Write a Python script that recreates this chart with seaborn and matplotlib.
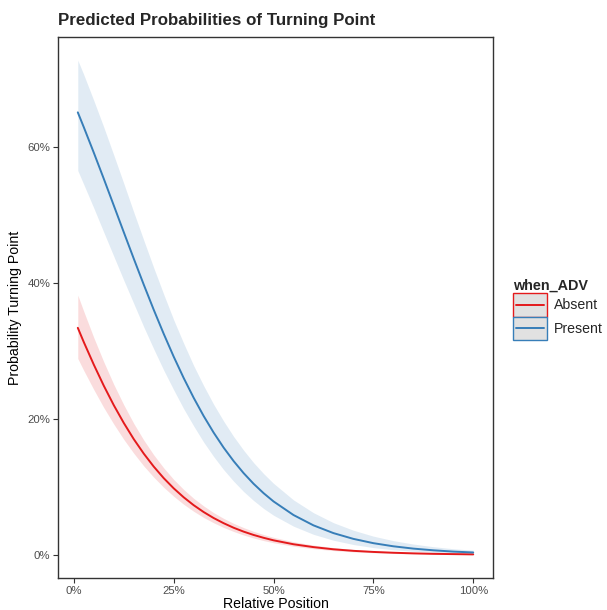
import matplotlib
matplotlib.use("Agg")
import matplotlib.pyplot as plt
from matplotlib.patches import Rectangle
from matplotlib.lines import Line2D
from matplotlib.ticker import PercentFormatter
import seaborn as sns
import pandas as pd

# values
position = [0.01, 0.025, 0.05, 0.075, 0.10, 0.125, 0.15, 0.175, 0.20, 0.225,
            0.25, 0.275, 0.30, 0.325, 0.35, 0.375, 0.40, 0.425, 0.45, 0.475,
            0.50, 0.55, 0.60, 0.65, 0.70, 0.75, 0.80, 0.85, 0.90, 0.95, 1.00]

absent_prob = [0.3341, 0.3131, 0.2800, 0.2490, 0.2204, 0.1943, 0.1705, 0.1492,
               0.1301, 0.1131, 0.0981, 0.0849, 0.0733, 0.0632, 0.0544, 0.0468,
               0.0401, 0.0344, 0.0295, 0.0253, 0.0216, 0.0158, 0.0116, 0.0084,
               0.0061, 0.0045, 0.0033, 0.0024, 0.0017, 0.0013, 0.0009]
absent_low = [0.2890, 0.2713, 0.2433, 0.2168, 0.1926, 0.1701, 0.1497, 0.1311,
              0.1145, 0.0996, 0.0864, 0.0746, 0.0643, 0.0552, 0.0474, 0.0405,
              0.0346, 0.0294, 0.0250, 0.0212, 0.0180, 0.0129, 0.0092, 0.0065,
              0.0046, 0.0033, 0.0023, 0.0016, 0.0012, 0.0008, 0.0006]
absent_high = [0.3822, 0.3582, 0.3198, 0.2841, 0.2510, 0.2210, 0.1936, 0.1692,
               0.1474, 0.1282, 0.1112, 0.0964, 0.0834, 0.0722, 0.0623, 0.0539,
               0.0466, 0.0403, 0.0348, 0.0301, 0.0260, 0.0195, 0.0146, 0.0109,
               0.0082, 0.0061, 0.0046, 0.0034, 0.0026, 0.0019, 0.0014]

present_prob = [0.6510, 0.6292, 0.5918, 0.5534, 0.5142, 0.4749, 0.4360, 0.3978,
                0.3608, 0.3254, 0.2918, 0.2604, 0.2313, 0.2045, 0.1801, 0.1580,
                0.1382, 0.1205, 0.1048, 0.0910, 0.0788, 0.0588, 0.0436, 0.0322,
                0.0237, 0.0174, 0.0128, 0.0094, 0.0069, 0.0050, 0.0037]
present_low = [0.5654, 0.5449, 0.5104, 0.4748, 0.4395, 0.4043, 0.3700, 0.3357,
               0.3032, 0.2720, 0.2430, 0.2152, 0.1899, 0.1661, 0.1449, 0.1256,
               0.1086, 0.0934, 0.0802, 0.0685, 0.0585, 0.0424, 0.0304, 0.0217,
               0.0154, 0.0109, 0.0077, 0.0055, 0.0039, 0.0027, 0.0019]
present_high = [0.7277, 0.7064, 0.6685, 0.6293, 0.5883, 0.5467, 0.5044, 0.4632,
                0.4226, 0.3836, 0.3460, 0.3114, 0.2787, 0.2491, 0.2217, 0.1970,
                0.1744, 0.1542, 0.1359, 0.1198, 0.1054, 0.0810, 0.0622, 0.0475,
                0.0364, 0.0277, 0.0211, 0.0161, 0.0122, 0.0092, 0.0070]

groups = ["Absent", "Present"]
colors = {"Absent": "#E41A1C", "Present": "#377EB8"}

df = pd.DataFrame({
    "x": position * 2,
    "prob": absent_prob + present_prob,
    "when_ADV": ["Absent"] * len(position) + ["Present"] * len(position),
})


# legend key: grey box with coloured outline and a line through the middle
class Key:
    def __init__(self, color):
        self.color = color


class KeyHandler:
    def legend_artist(self, legend, orig_handle, fontsize, handlebox):
        x0, y0 = -handlebox.xdescent, -handlebox.ydescent
        w, h = handlebox.width, handlebox.height
        tr = handlebox.get_transform()
        rect = Rectangle((x0, y0), w, h, facecolor="#E1E1E1",
                         edgecolor=orig_handle.color, linewidth=1.0, transform=tr)
        line = Line2D([x0 + 2, x0 + w - 2], [y0 + h / 2, y0 + h / 2],
                      color=orig_handle.color, linewidth=1.4, transform=tr)
        handlebox.add_artist(rect)
        handlebox.add_artist(line)
        return rect


sns.set_theme(style="white")
plt.rcParams["font.family"] = ["Liberation Sans", "DejaVu Sans"]

fig = plt.figure(figsize=(6.07, 6.10), dpi=100)
ax = fig.add_axes([0.0956, 0.0525, 0.7166, 0.8868])

# confidence ribbons
ax.fill_between(position, absent_low, absent_high, color=colors["Absent"],
                alpha=0.15, linewidth=0)
ax.fill_between(position, present_low, present_high, color=colors["Present"],
                alpha=0.15, linewidth=0)

sns.lineplot(data=df, x="x", y="prob", hue="when_ADV", palette=colors,
             hue_order=groups, linewidth=1.4, errorbar=None, legend=False, ax=ax)

ax.set_xlim(-0.0395, 1.0495)
ax.set_ylim(-0.0338, 0.7618)
ax.set_xticks([0, 0.25, 0.5, 0.75, 1.0])
ax.set_yticks([0, 0.2, 0.4, 0.6])
ax.xaxis.set_major_formatter(PercentFormatter(1.0, decimals=0))
ax.yaxis.set_major_formatter(PercentFormatter(1.0, decimals=0))
ax.tick_params(axis="both", which="major", length=3.5, width=0.8,
               color="#333333", labelcolor="#4D4D4D", labelsize=8.2, pad=2,
               bottom=True, left=True)
for sp in ax.spines.values():
    sp.set_color("#333333")
    sp.set_linewidth(1.0)

ax.set_xlabel("Relative Position", fontsize=10.2, color="black", labelpad=1)
ax.set_ylabel("Probability Turning Point", fontsize=10.2, color="black", labelpad=4)
fig.text(0.0956, 0.967, "Predicted Probabilities of Turning Point",
         fontsize=12.2, fontweight="bold", ha="left", va="center")

keys = [Key(colors[g]) for g in groups]
fig.legend(keys, groups, title="when_ADV", loc="center left",
           bbox_to_anchor=(0.845, 0.4926), frameon=False, fontsize=10.2,
           title_fontproperties={"weight": "bold", "size": 10.4},
           handler_map={Key: KeyHandler()},
           handlelength=2.4, handleheight=2.2, labelspacing=0.0,
           handletextpad=0.5, borderpad=0, borderaxespad=0, alignment="left")

fig.savefig("out.png", dpi=100)
